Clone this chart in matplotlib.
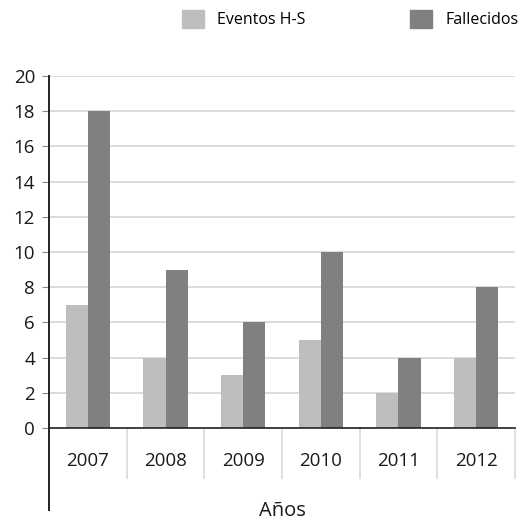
import matplotlib.pyplot as plt
import numpy as np
from matplotlib.patches import Patch
from matplotlib.lines import Line2D

years = ["2007", "2008", "2009", "2010", "2011", "2012"]
eventos = [7, 4, 3, 5, 2, 4]
fallecidos = [18, 9, 6, 10, 4, 8]
yticks = list(range(0, 21, 2))

light = "#bdbec0"
dark = "#808083"
grid_c = "#d9d9d9"

plt.rcParams['font.family'] = ['Open Sans', 'DejaVu Sans']

fig = plt.figure(figsize=(5.21, 5.2), dpi=100)
ax = fig.add_axes([49/521, 1-428/520, (515-49)/521, (428-76)/520])

x = np.arange(len(years))
w = 0.285
ax.bar(x - w/2, eventos, w, color=light, zorder=2)
ax.bar(x + w/2, fallecidos, w, color=dark, zorder=2)

ax.set_xlim(-0.5, len(years) - 0.5)
ax.set_ylim(0, 20)
ax.set_yticks(yticks)
ax.yaxis.grid(True, color=grid_c, linewidth=1.3, zorder=0)
ax.tick_params(axis='y', length=5, color="#888888", labelsize=13.5, pad=5, labelcolor="#1a1a1a")

ax.set_xticks(x)
ax.set_xticklabels(years)
ax.tick_params(axis='x', which='major', length=0, labelsize=13.5, pad=17, labelcolor="#1a1a1a")
ax.set_xticks(np.arange(len(years)) + 0.5, minor=True)
ax.tick_params(axis='x', which='minor', length=37, color=grid_c, width=1.2)

for s in ['top', 'right', 'left']:
    ax.spines[s].set_visible(False)
ax.spines['bottom'].set_color("#222222")
ax.spines['bottom'].set_linewidth(1.2)
ax.spines['bottom'].set_zorder(3)

# left axis line extends below the category labels
ax.add_line(Line2D([0, 0], [-0.233, 1], transform=ax.transAxes, color="#222222",
                   linewidth=1.4, clip_on=False, zorder=3))

fig.text(282/521, 1-511/520, "Años", ha='center', va='center', fontsize=14.5, color="#1a1a1a")

handles = [Patch(color=light), Patch(color=dark)]
fig.legend(handles, ["Eventos H-S", "Fallecidos"], loc='center left',
           bbox_to_anchor=(182/521, 1-19/520), ncol=2, frameon=False,
           fontsize=11.5, handlelength=1.4, handleheight=1.4,
           handletextpad=0.8, columnspacing=6.55, borderpad=0, borderaxespad=0)

fig.savefig("out.png", dpi=100)
